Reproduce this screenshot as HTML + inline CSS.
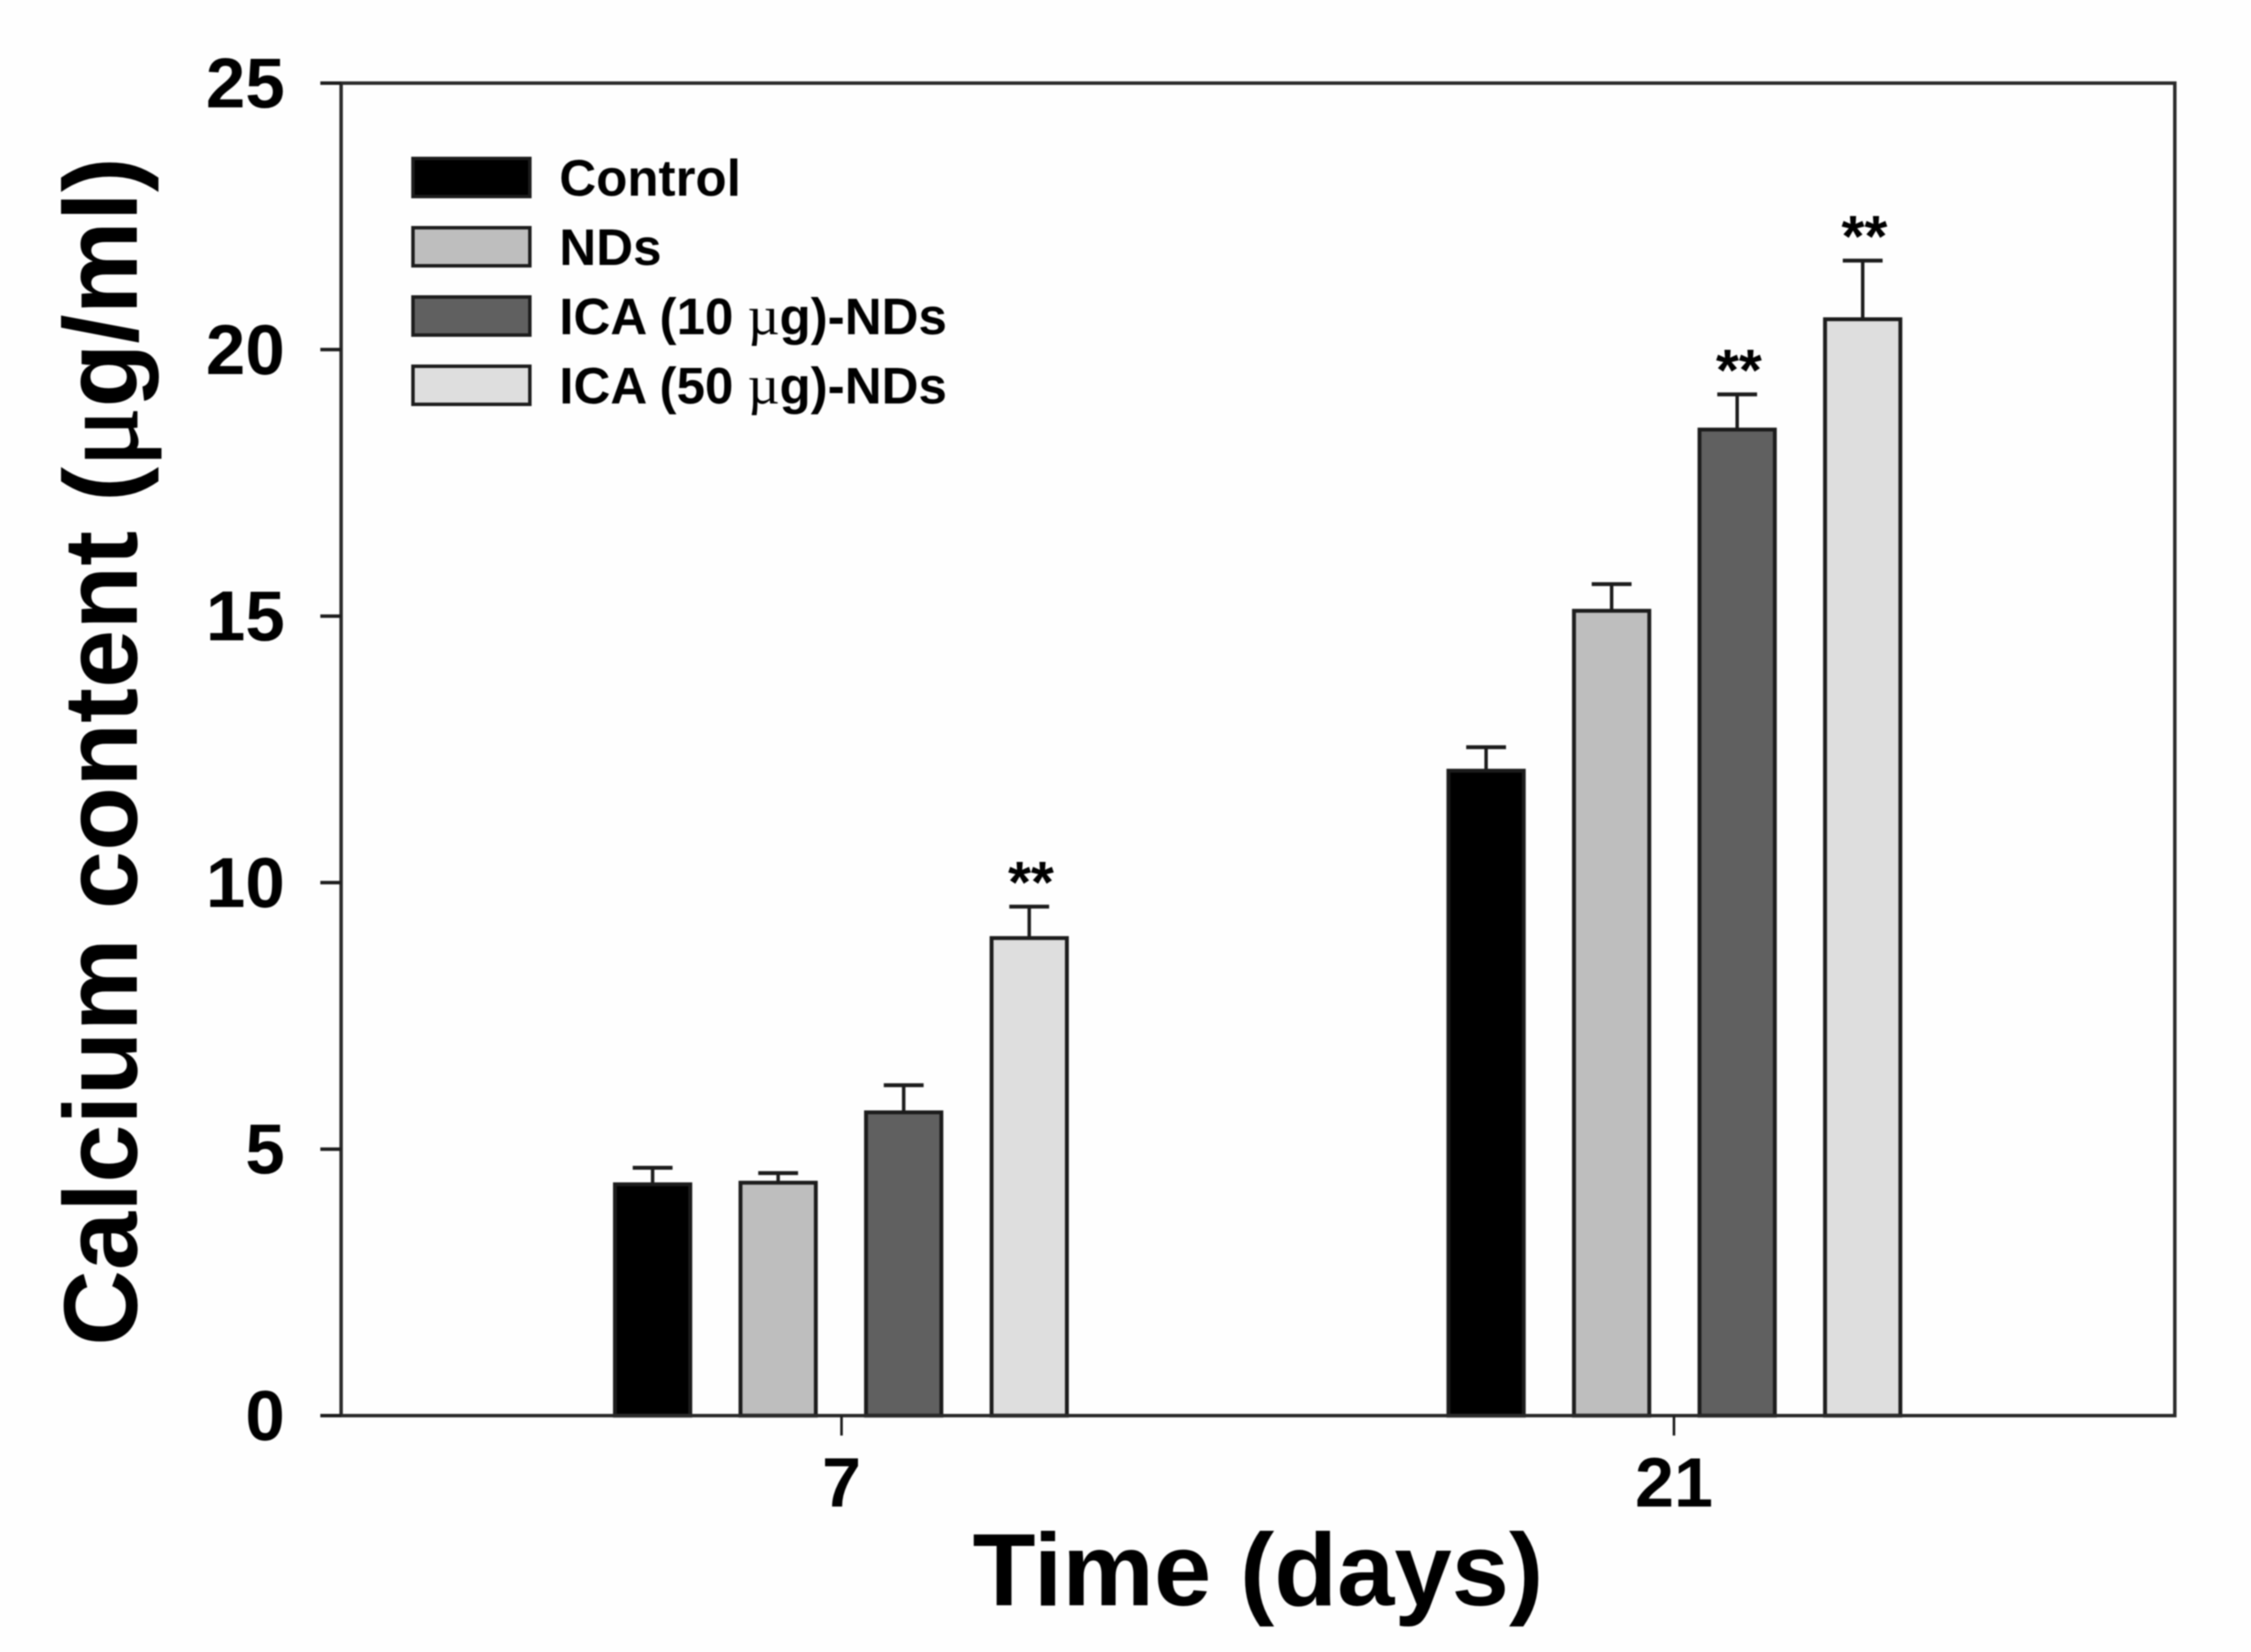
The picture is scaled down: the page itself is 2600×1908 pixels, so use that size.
<!DOCTYPE html>
<html lang="en">
<head>
<meta charset="utf-8">
<title>Calcium content over time</title>
<style>
  html, body { margin: 0; padding: 0; background: #fefefe; }
  svg { display: block; filter: blur(0.7px); }
  text { font-family: "Liberation Sans", sans-serif; font-weight: bold; fill: #000; }
</style>
</head>
<body>
<svg id="chart" xmlns="http://www.w3.org/2000/svg" width="2600" height="1908" viewBox="0 0 2600 1908">
  <rect x="0" y="0" width="2600" height="1908" fill="#fefefe"/>
  <text transform="translate(158,868) rotate(-90)" text-anchor="middle" font-size="121">Calcium content (<tspan font-family="'Liberation Serif', serif" font-weight="normal" font-size="128" stroke="#000" stroke-width="2">μ</tspan>g/ml)</text>
  <text x="1453" y="1854" text-anchor="middle" font-size="119">Time (days)</text>
</svg>
<script>
const categories = ["7", "21"];
const seriesNames = ["Control", "NDs", "ICA (10 µg)-NDs", "ICA (50 µg)-NDs"];
const controlValues = [4.34, 12.1];
const ndsValues = [4.37, 15.1];
const ica10Values = [5.69, 18.5];
const ica50Values = [8.96, 20.57];
const controlErrors = [0.31, 0.44];
const ndsErrors = [0.18, 0.5];
const ica10Errors = [0.51, 0.66];
const ica50Errors = [0.59, 1.1];
const ica10Marks = ["", "**"];
const ica50Marks = ["**", "**"];
const yTicks = [0, 5, 10, 15, 20, 25];

const seriesValues = [controlValues, ndsValues, ica10Values, ica50Values];
const seriesErrors = [controlErrors, ndsErrors, ica10Errors, ica50Errors];
const seriesMarks = [[], [], ica10Marks, ica50Marks];
const seriesFills = ["#000000", "#bebebe", "#606060", "#dedede"];

const plotLeft = 394, plotRight = 2512, plotTop = 96, plotBottom = 1635;
const yMax = 25;
const barStep = 145, barWidth = 87;
const ink = "#1c1c1c";

function yScale(v) { return plotBottom - (v / yMax) * (plotBottom - plotTop); }
function xScale(i) { return 972 + i * (1933.5 - 972); }
function barCenter(i, s) { return xScale(i) + (s - (seriesValues.length - 1) / 2) * barStep - 0.7 + i * 1.2; }

const svg = document.getElementById("chart");
const NS = "http://www.w3.org/2000/svg";
function mk(tag, props) {
  const el = document.createElementNS(NS, tag);
  for (const k in props) el.setAttribute(k, props[k]);
  svg.appendChild(el);
  return el;
}

// bars, error bars, significance marks
categories.forEach(function (cat, i) {
  seriesValues.forEach(function (vals, s) {
    const cx = barCenter(i, s);
    const top = yScale(vals[i]);
    const errTop = yScale(vals[i] + seriesErrors[s][i]);

    const stem = mk("line", { x1: cx, x2: cx, y1: top, y2: errTop, stroke: ink, "stroke-width": 4 });
    
    

    const cap = mk("line", { x1: cx - 23, x2: cx + 23, y1: errTop, y2: errTop, stroke: ink, "stroke-width": 4.5 });
    
    

    const bar = mk("rect", { x: cx - barWidth / 2, y: top, width: barWidth, height: plotBottom - top, fill: seriesFills[s], stroke: ink, "stroke-width": 4.5 });
    
    

    const mark = seriesMarks[s][i];
    if (mark) {
      const t = mk("text", { x: cx + 2, y: errTop - 5, "text-anchor": "middle", "font-size": 68 });
      t.textContent = mark;
      
      
    }
  });
});

// plot frame
const frame = mk("path", {
  d: "M" + plotLeft + " " + plotBottom + "V" + plotTop + "H" + plotRight + "V" + plotBottom + "Z",
  fill: "none", stroke: "#2a2a2a", "stroke-width": 4
});



// y axis ticks and labels
yTicks.forEach(function (v) {
  const y = yScale(v);
  const tick = mk("line", { x1: plotLeft - 24, x2: plotLeft, y1: y, y2: y, stroke: ink, "stroke-width": 4 });
  
  

  const label = mk("text", { x: 329, y: y + 28, "text-anchor": "end", "font-size": 82 });
  label.textContent = String(v);
  
  
});

// x axis ticks and labels
categories.forEach(function (cat, i) {
  const x = xScale(i);
  const tick = mk("line", { x1: x, x2: x, y1: plotBottom, y2: plotBottom + 23, stroke: ink, "stroke-width": 3 });
  
  

  const label = mk("text", { x: x, y: 1740, "text-anchor": "middle", "font-size": 81 });
  label.textContent = cat;
  
  
});

// legend
const legendTop = 183, legendStep = 80;
seriesNames.forEach(function (name, s) {
  const y = legendTop + s * legendStep;
  const swatch = mk("rect", { x: 477, y: y, width: 135, height: 44, fill: seriesFills[s], stroke: ink, "stroke-width": 4 });
  
  

  const label = mk("text", { x: 646, y: y + 43, "font-size": 59 });
  const parts = name.split("µ");
  label.appendChild(document.createTextNode(parts[0]));
  if (parts.length > 1) {
    const mu = document.createElementNS(NS, "tspan");
    mu.setAttribute("font-family", "'Liberation Serif', serif");
    mu.setAttribute("font-weight", "normal");
    mu.setAttribute("font-size", "64");
    
    
    mu.textContent = "µ";
    label.appendChild(mu);
    label.appendChild(document.createTextNode(parts[1]));
  }
  
  
});
</script>
</body>
</html>
